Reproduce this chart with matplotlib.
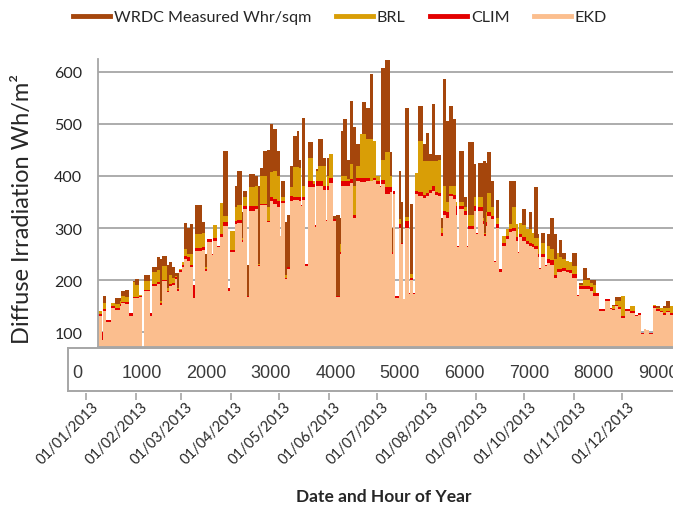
import numpy as np
import matplotlib
matplotlib.use("Agg")
import matplotlib.pyplot as plt
from matplotlib.lines import Line2D
from matplotlib import font_manager
from matplotlib.transforms import ScaledTranslation

plt.rcParams['font.family'] = ['Lato', 'DejaVu Sans']

# ---------------- data (day-of-year segment starts, daily peak values) ----------------
seg_day = [0.0, 2.5, 3.7, 5.6, 8.1, 10.6, 13.7, 14.9, 17.4, 19.9, 21.8, 23.6, 26.1, 28.0, 29.2,
           32.9, 34.2, 37.3, 39.2, 40.4, 43.5, 44.7, 46.6, 48.5, 49.7, 51.0, 52.8, 54.1, 55.9,
           57.8, 59.7, 60.9, 65.3, 67.1, 68.4, 71.5, 72.1, 74.6, 76.4, 78.3, 81.4, 82.7, 85.8,
           87.0, 90.1, 90.7, 93.2, 94.5, 98.2, 100.1, 101.3, 103.2, 105.7, 107.5, 109.4, 111.9,
           113.7, 114.4, 116.8, 118.1, 120.0, 121.8, 124.3, 125.5, 126.8, 127.4, 129.3, 131.1,
           134.2, 135.5, 136.1, 137.4, 140.5, 142.4, 143.0, 144.3, 146.7, 148.5, 151.0, 151.6,
           153.0, 155.4, 157.2, 159.1, 161.0, 163.5, 164.7, 167.2, 169.7, 171.5, 173.4, 175.9,
           176.5, 179.0, 182.1, 183.3, 184.0, 185.2, 187.7, 188.9, 190.2, 191.4, 193.9, 194.5,
           196.4, 197.6, 199.5, 202.6, 204.5, 206.3, 208.2, 210.1, 211.9, 213.8, 215.0, 216.9,
           218.8, 221.3, 223.1, 224.0, 225.0, 228.1, 230.0, 230.6, 234.3, 235.5, 236.8, 239.9,
           240.8, 241.8, 242.4, 244.9, 246.7, 248.0, 249.8, 251.7, 254.2, 256.1, 257.9, 260.4,
           261.5, 262.3, 264.1, 266.6, 268.5, 270.4, 271.6, 274.1, 274.7, 275.9, 278.4, 279.7,
           281.5, 284.0, 285.9, 287.1, 289.0, 291.5, 293.3, 295.2, 298.3, 299.6, 302.0, 304.5,
           306.4, 308.3, 310.1, 312.0, 315.7, 318.8, 320.1, 321.9, 323.8, 325.7, 328.2, 331.3,
           334.4, 336.2, 338.1, 340.0, 341.2, 343.1, 345.6, 347.4, 349.9, 351.8, 353.6, 356.1]

ekd = [131, 85, 141, 120, 146, 143, 150, 156, 154, 132, 165, 165, 167, 60, 179,
       132, 189, 192, 153, 198, 177, 189, 191, 202, 180, 215, 225, 240, 237,
       225, 165, 256, 258, 218, 273, 248, 275, 263, 282, 304, 180, 254, 307,
       310, 273, 336, 167, 333, 336, 227, 344, 344, 311, 352, 347, 340,
       285, 349, 202, 222, 352, 354, 354, 352, 342, 354, 228, 378,
       378, 302, 381, 381, 374, 314, 374, 387, 314, 167, 250, 381,
       381, 381, 386, 320, 390, 389, 389, 390, 390, 392, 384, 378,
       385, 366, 370, 250, 365, 166, 301, 269, 163, 301, 173, 200,
       173, 365, 361, 358, 361, 368, 372, 363, 361, 285, 326, 320,
       361, 355, 326, 263, 337, 326, 263, 298, 332, 288, 333, 307,
       285, 304, 323, 317, 234, 300, 215, 265, 279, 292, 294, 276,
       253, 282, 276, 269, 266, 263, 260, 244, 221, 244, 227, 233,
       229, 205, 215, 215, 217, 215, 213, 205, 170, 183, 183, 183,
       180, 170, 170, 141, 160, 144, 142, 150, 144, 127, 141, 137,
       131, 133, 96, 106, 104, 96, 147, 141, 139, 134, 139, 134]

clim = [135, 100, 145, 124, 150, 147, 154, 159, 158, 137, 168, 168, 170, 60, 182,
        137, 193, 197, 156, 201, 180, 193, 195, 206, 183, 219, 229, 246, 245,
        230, 190, 262, 264, 222, 279, 250, 281, 266, 288, 311, 185, 258, 314,
        316, 277, 342, 170, 342, 342, 230, 347, 347, 314, 359, 355, 352,
        285, 352, 205, 225, 362, 360, 360, 360, 345, 360, 232, 390,
        385, 305, 390, 390, 381, 316, 381, 397, 318, 170, 255, 390,
        390, 390, 394, 325, 396, 396, 396, 396, 391, 396, 391, 380,
        392, 378, 378, 255, 371, 170, 307, 272, 163, 313, 175, 205,
        175, 371, 369, 363, 367, 374, 381, 369, 367, 290, 333, 330,
        365, 363, 342, 266, 342, 333, 266, 304, 342, 290, 340, 314,
        288, 311, 330, 324, 236, 307, 222, 272, 285, 298, 300, 282,
        255, 288, 282, 275, 272, 269, 266, 250, 224, 250, 230, 240,
        238, 210, 221, 221, 223, 219, 219, 211, 172, 189, 189, 189,
        186, 176, 175, 145, 163, 146, 145, 152, 148, 131, 144, 140,
        133, 137, 98, 107, 105, 98, 150, 144, 141, 137, 141, 137]

brl = [140, 100, 156, 124, 157, 155, 160, 170, 168, 137, 196, 190, 172, 60, 198,
       137, 215, 219, 160, 227, 185, 210, 205, 208, 185, 222, 235, 259, 250,
       250, 190, 288, 290, 225, 279, 250, 305, 266, 348, 323, 185, 294, 340,
       345, 280, 359, 170, 378, 380, 232, 400, 400, 340, 407, 410, 400,
       285, 360, 210, 225, 378, 417, 417, 415, 345, 380, 232, 435,
       390, 305, 409, 420, 420, 316, 400, 442, 318, 170, 270, 400,
       400, 395, 422, 380, 420, 480, 480, 470, 470, 467, 400, 380,
       430, 445, 400, 255, 371, 170, 317, 272, 163, 321, 175, 212,
       175, 406, 467, 428, 428, 428, 428, 428, 430, 300, 380, 350,
       380, 380, 350, 266, 350, 340, 266, 326, 360, 290, 360, 320,
       290, 330, 368, 340, 236, 320, 222, 285, 298, 307, 340, 307,
       255, 310, 305, 298, 298, 290, 280, 280, 224, 272, 230, 265,
       260, 240, 253, 245, 240, 237, 235, 227, 172, 190, 200, 200,
       195, 190, 175, 145, 163, 146, 150, 160, 160, 170, 144, 150,
       133, 137, 98, 107, 105, 98, 153, 147, 147, 147, 147, 150]

wrdc = [140, 100, 170, 124, 157, 166, 165, 179, 181, 137, 198, 202, 172, 60, 209,
        137, 225, 244, 240, 246, 230, 235, 225, 213, 213, 222, 235, 310, 300,
        307, 190, 344, 311, 250, 279, 250, 305, 266, 348, 448, 185, 294, 381,
        410, 330, 371, 230, 403, 400, 380, 416, 448, 450, 499, 490, 448,
        285, 390, 311, 326, 419, 477, 486, 430, 345, 512, 232, 466,
        390, 305, 413, 470, 434, 316, 434, 407, 323, 326, 320, 486,
        509, 430, 544, 493, 461, 480, 541, 530, 595, 467, 400, 380,
        608, 622, 445, 300, 371, 170, 409, 350, 163, 531, 175, 346,
        175, 406, 534, 461, 483, 442, 538, 440, 440, 320, 586, 506,
        534, 509, 350, 266, 448, 360, 266, 466, 422, 290, 424, 429,
        429, 425, 445, 390, 236, 353, 222, 285, 298, 390, 390, 307,
        255, 310, 336, 298, 330, 290, 378, 288, 224, 290, 230, 288,
        320, 288, 253, 278, 253, 237, 235, 253, 172, 195, 224, 205,
        201, 200, 175, 145, 163, 146, 152, 167, 167, 170, 144, 150,
        133, 137, 98, 107, 105, 98, 153, 150, 147, 150, 160, 150]

series_names = ["WRDC Measured Whr/sqm", "BRL", "CLIM", "EKD"]
series_colors = ["#A5460C", "#D99E06", "#E30000", "#FBBE8E"]

y_ticks = [100, 200, 300, 400, 500, 600]
hour_ticks = [0, 1000, 2000, 3000, 4000, 5000, 6000, 7000, 8000, 9000]
month_start_days = [0, 31, 59, 90, 120, 151, 181, 212, 243, 273, 304, 334]
month_labels = ["01/01/2013", "01/02/2013", "01/03/2013", "01/04/2013", "01/05/2013",
                "01/06/2013", "01/07/2013", "01/08/2013", "01/09/2013", "01/10/2013",
                "01/11/2013", "01/12/2013"]

# ---------------- layout helpers ----------------
W, H = 673, 506
fig = plt.figure(figsize=(W / 100, H / 100), dpi=100)
fig.patch.set_facecolor("white")


def fx(px):
    return px / W


def fy(py):
    return 1 - py / H


grid_col = "#A6A6A6"
text_col = "#262626"

# ---------------- main plot ----------------
ax = fig.add_axes([fx(97.5), fy(348), fx(684) - fx(97.5), fy(60) - fy(348)])
ax.set_xlim(0, 365)
ax.set_ylim(71.8, 624.4)
ax.set_axisbelow(True)
ax.yaxis.grid(True, color=grid_col, lw=1.3)
ax.set_yticks(y_ticks)
ax.set_xticks([])
ax.tick_params(axis="y", length=0, pad=11, labelsize=11.5, labelcolor=text_col)
for s in ["top", "right"]:
    ax.spines[s].set_visible(False)
for s in ["left", "bottom"]:
    ax.spines[s].set_color(grid_col)
    ax.spines[s].set_linewidth(1.3)

xs = np.append(np.array(seg_day), 365.0)
for vals, col in zip([wrdc, brl, clim, ekd], series_colors):
    v = np.array(vals, dtype=float)
    ys = np.append(v, v[-1])
    ax.fill_between(xs, ys, 0, step="post", color=col, lw=0, zorder=2)

fig.text(fx(23), fy(209), "Diffuse Irradiation Wh/m²", rotation=90, ha="center",
         va="center", fontsize=17, color=text_col)

# ---------------- hour box axis ----------------
names = {f.name for f in font_manager.fontManager.ttflist}
if "Liberation Sans Narrow" in names:
    box_family, box_size = ["Liberation Sans Narrow", "DejaVu Sans"], 15
else:
    box_family, box_size = ["Liberation Sans", "DejaVu Sans"], 13

bax = fig.add_axes([fx(68.3), fy(392.3), fx(690) - fx(68.3), fy(349) - fy(392.3)])
bax.set_facecolor("white")
bax.set_xlim((68.3 - 77.5) / 0.0645, (690 - 77.5) / 0.0645)
bax.set_yticks([])
bax.set_xticks(hour_ticks)
bax.set_xticklabels([str(h) for h in hour_ticks], family=box_family, fontsize=box_size,
                    color="#3A3A3A")
bax.tick_params(axis="x", length=0, pad=-13.2)
for lbl in bax.get_xticklabels():
    lbl.set_va("center")
for s in bax.spines.values():
    s.set_color(grid_col)
    s.set_linewidth(1.4)

# ---------------- date axis ----------------
dax = fig.add_axes([fx(86), fy(393.5), fx(86 + 365 * 1.606) - fx(86), 0.0001])
dax.patch.set_visible(False)
dax.set_xlim(0, 365)
dax.set_yticks([])
for s in dax.spines.values():
    s.set_visible(False)
dax.set_xticks(month_start_days)
dax.set_xticklabels(month_labels, rotation=45, ha="right", rotation_mode="anchor",
                    fontsize=10.5, color=text_col)
dax.tick_params(axis="x", length=5, width=1.2, color=grid_col, pad=3)
for lbl in dax.get_xticklabels():
    lbl.set_va("center")
    lbl.set_transform(lbl.get_transform() + ScaledTranslation(0.10, 0, fig.dpi_scale_trans))

fig.text(fx(384), fy(497), "Date and Hour of Year", ha="center", va="center",
         fontsize=12.5, fontweight="bold", color=text_col)

# ---------------- legend ----------------
handles = [Line2D([], [], color=c, lw=3.5) for c in series_colors]
fig.legend(handles, series_names, loc="center", bbox_to_anchor=(fx(340), fy(18)), ncol=4,
           frameon=False, fontsize=11.6, handlelength=2.3, handletextpad=0.25,
           columnspacing=1.5, labelcolor=text_col)

fig.savefig("out.png", dpi=100, facecolor="white")
